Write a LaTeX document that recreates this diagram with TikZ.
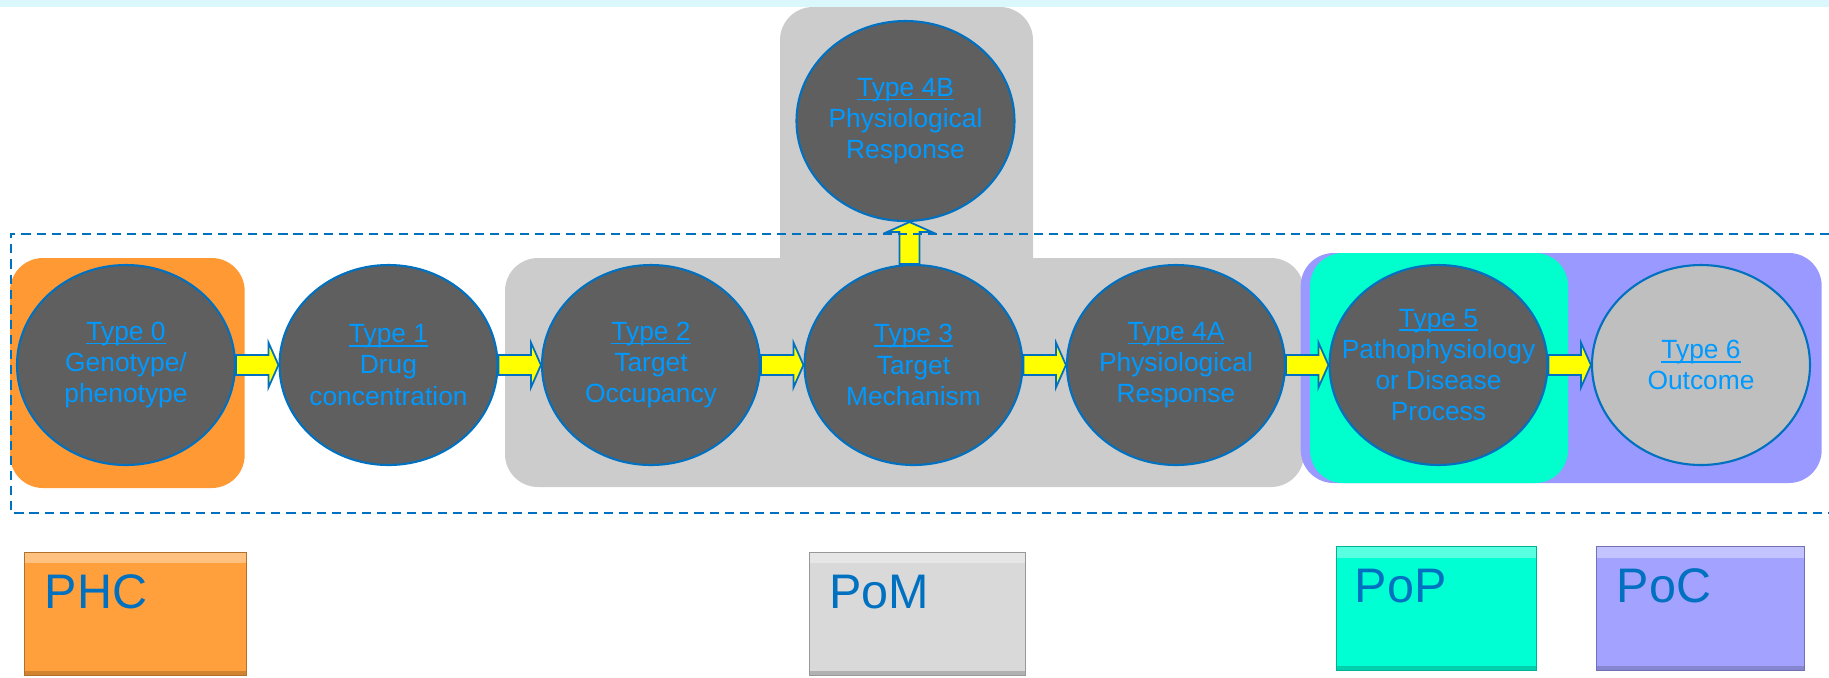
\documentclass[tikz,border=0pt]{standalone}
\usepackage{fontspec}
\setmainfont{Liberation Sans}
\usepackage{xcolor}
\definecolor{bordBleu}{HTML}{0070C0}
\definecolor{texteBleu}{HTML}{0099FF}
\definecolor{grisRond}{HTML}{5F5F5F}
\definecolor{grisClair}{HTML}{BFBFBF}
\definecolor{grisZone}{HTML}{CCCCCC}
\definecolor{orangeZone}{HTML}{FF9933}
\definecolor{violetZone}{HTML}{9999FF}
\definecolor{cyanZone}{HTML}{00FFCC}
\definecolor{jauneFleche}{HTML}{FFFF00}
\definecolor{bandeau}{HTML}{DAF8FB}
\definecolor{orangeLeg}{HTML}{FFA03C}
\definecolor{grisLeg}{HTML}{D9D9D9}
\definecolor{cyanLeg}{HTML}{00FFD2}
\definecolor{violetLeg}{HTML}{A3A3FF}
\usetikzlibrary{calc, shapes.geometric}
\newcommand{\Souligne}[1]{\setbox0\hbox{#1}\rlap{\rule[-1.2pt]{\wd0}{0.5pt}}\box0}
\tikzset{
  %% ── Zones ────────────────────────────────────────────────────────────
  %% Coloured backgrounds behind the chain; they carry no text.
  zone/.style         = {draw=none, rounded corners=3.3mm},
  %%
  %% ── Ronds ────────────────────────────────────────────────────────────
  %% The ellipse is fixed in size, so its text goes in a node of its own.
  rond/.style         = {ellipse, draw=bordBleu, line width=0.6pt, fill=grisRond,
                         minimum width=2.18cm, minimum height=2.0cm, inner sep=0pt},
  rondClair/.style    = {rond, fill=grisClair},
  texteRond/.style    = {text=texteBleu, align=center, inner sep=0pt,
                         font=\fontsize{7.5}{8.9}\selectfont},
  %%
  %% ── Fleches ──────────────────────────────────────────────────────────
  %% Block arrows, drawn from the border of one ellipse to the next.
  flecheDroite/.style = {draw=bordBleu, fill=jauneFleche, line width=0.5pt,
                         to path={let \p1=(\tikztostart), \p2=(\tikztotarget) in
                           (\x1,\y1+1mm) -- (\x2-1mm,\y1+1mm) -- (\x2-1mm,\y1+2.25mm)
                           -- (\x2,\y1) -- (\x2-1mm,\y1-2.25mm) -- (\x2-1mm,\y1-1mm)
                           -- (\x1,\y1-1mm) -- cycle}},
  flecheHaut/.style   = {draw=bordBleu, fill=jauneFleche, line width=0.5pt,
                         to path={let \p1=(\tikztostart), \p2=(\tikztotarget),
                                      \p3=($(\tikztostart)!.5!(\tikztotarget)$) in
                           (\x3+1mm,\y1) -- (\x3+1mm,\y2-1mm) -- (\x3+2.25mm,\y2-1mm)
                           -- (\x3,\y2) -- (\x3-2.25mm,\y2-1mm) -- (\x3-1mm,\y2-1mm)
                           -- (\x3-1mm,\y1) -- cycle}},
  cadre/.style        = {draw=bordBleu, line width=0.6pt, dash pattern=on 2.6pt off 1.7pt},
  %%
  %% ── Legende ──────────────────────────────────────────────────────────
  legende/.style      = {fill=#1, draw=#1!70!black, line width=0.4pt, anchor=north west,
                         inner sep=0pt,
                         path picture={
                           \fill[white, opacity=0.35] (path picture bounding box.north west)
                             rectangle ([yshift=-1.1mm]path picture bounding box.north east);
                           \fill[black, opacity=0.18] (path picture bounding box.south west)
                             rectangle ([yshift=0.5mm]path picture bounding box.south east);}},
  texteLegende/.style = {text=bordBleu, font=\fontsize{13.8}{16}\selectfont,
                         anchor=base west, inner sep=0pt},
}

\begin{document}
\begin{tikzpicture}[x=1cm, y=1cm]
\useasboundingbox (0,0) rectangle (18.29,-6.77);

%% Bandeau du haut.
\fill[bandeau] (0,0) rectangle (18.29,-0.07);

%% Les zones de fond.
\fill[zone, grisZone] (7.80,-0.07) rectangle (10.33,-3.50);
\fill[zone, grisZone] (5.05,-2.58) rectangle (13.04,-4.87);
\fill[zone, orangeZone] (0.10,-2.58) rectangle (2.447,-4.88);
\fill[zone, violetZone] (13.007,-2.53) rectangle (18.217,-4.83);
\fill[zone, cyanZone] (13.10,-2.53) rectangle (15.68,-4.83);

%% La chaine des types, de 0 a 6, et la branche 4B.
\node[rond] (t0) at (1.26,-3.65) {};
\node[rond] (t1) at (3.885,-3.65) {};
\node[rond] (t2) at (6.51,-3.65) {};
\node[rond] (t3) at (9.135,-3.65) {};
\node[rond] (t4a) at (11.76,-3.65) {};
\node[rond] (t5) at (14.385,-3.65) {};
\node[rondClair] (t6) at (17.01,-3.65) {};
\node[rond] (t4b) at (9.055,-1.21) {};

\node[texteRond] (t0txt) at (t0) {\Souligne{Type 0}\\Genotype/\\phenotype};
\node[texteRond] (t1txt) at (t1) {\Souligne{Type 1}\\Drug\\concentration};
\node[texteRond] (t2txt) at (t2) {\Souligne{Type 2}\\Target\\Occupancy};
\node[texteRond] (t3txt) at (t3) {\Souligne{Type 3}\\Target\\Mechanism};
\node[texteRond] (t4atxt) at (t4a) {\Souligne{Type 4A}\\Physiological\\Response};
\node[texteRond] (t5txt) at (t5) {\Souligne{Type 5}\\Pathophysiology\\or Disease\\Process};
\node[texteRond] (t6txt) at (t6) {\Souligne{Type 6}\\Outcome};
\node[texteRond] (t4btxt) at (t4b) {\Souligne{Type 4B}\\Physiological\\Response};

\foreach \a/\b in {t0/t1, t1/t2, t2/t3, t3/t4a, t4a/t5, t5/t6}
  \draw[flecheDroite] (\a.east) to (\b.west);
\draw[flecheHaut] (t3.north) to (t4b.south);

%% Le cadre en tirets, ouvert a droite.
\draw[cadre] (18.29,-2.34) -- (0.107,-2.34) -- (0.107,-5.127) -- (18.29,-5.127);

%% La legende.
\node[legende=orangeLeg, minimum width=2.217cm, minimum height=1.233cm] (legPHC) at (0.24,-5.517) {};
\node[legende=grisLeg, minimum width=2.159cm, minimum height=1.233cm] (legPoM) at (8.086,-5.517) {};
\node[legende=cyanLeg, minimum width=1.996cm, minimum height=1.24cm] (legPoP) at (13.36,-5.46) {};
\node[legende=violetLeg, minimum width=2.08cm, minimum height=1.24cm] (legPoC) at (15.96,-5.46) {};

\node[texteLegende] (txtPHC) at ([xshift=2mm, yshift=-5.66mm]legPHC.north west) {PHC};
\node[texteLegende] (txtPoM) at ([xshift=2mm, yshift=-5.66mm]legPoM.north west) {PoM};
\node[texteLegende] (txtPoP) at ([xshift=1.8mm, yshift=-5.66mm]legPoP.north west) {PoP};
\node[texteLegende] (txtPoC) at ([xshift=2mm, yshift=-5.66mm]legPoC.north west) {PoC};

\end{tikzpicture}
\end{document}
